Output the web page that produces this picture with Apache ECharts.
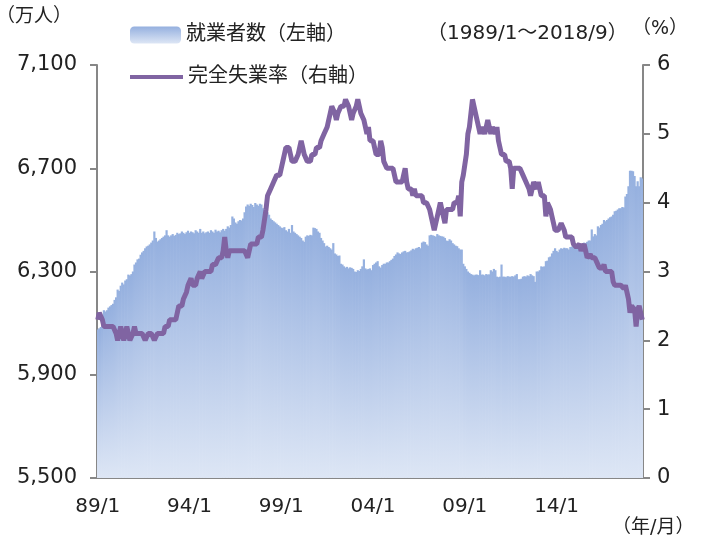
<!DOCTYPE html>
<html>
<head>
<meta charset="utf-8">
<script src="https://cdn.jsdelivr.net/npm/echarts/dist/echarts.min.js"></script>
<style>
  html, body { margin: 0; padding: 0; background: #fff; }
  #main { width: 703px; height: 542px; }
</style>
</head>
<body>
<div id="main"></div>
<script>
// 期間: 1989/1 〜 2018/9（月次）
const startYear = 1989;
const endYear = 2018;
const endMonth = 9;

const tickLabels = ["89/1", "94/1", "99/1", "04/1", "09/1", "14/1"];

// 就業者数（万人）
const employed = [
  6075, 6080, 6085, 6100, 6150, 6145, 6150, 6160, 6165, 6170, 6175, 6190, // 1989
  6200, 6230, 6225, 6245, 6257, 6250, 6265, 6270, 6288, 6285, 6290, 6300, // 1990
  6327, 6335, 6347, 6350, 6365, 6374, 6380, 6390, 6397, 6400, 6405, 6412, // 1991
  6420, 6455, 6430, 6416, 6420, 6425, 6430, 6435, 6440, 6460, 6440, 6435, // 1992
  6440, 6445, 6438, 6442, 6450, 6445, 6448, 6455, 6450, 6445, 6452, 6458, // 1993
  6450, 6455, 6452, 6448, 6460, 6455, 6450, 6465, 6450, 6455, 6448, 6452, // 1994
  6455, 6450, 6460, 6455, 6450, 6462, 6455, 6458, 6452, 6460, 6465, 6458, // 1995
  6465, 6475, 6470, 6480, 6513, 6505, 6490, 6485, 6495, 6500, 6498, 6505, // 1996
  6530, 6552, 6560, 6555, 6562, 6558, 6550, 6565, 6560, 6555, 6562, 6560, // 1997
  6545, 6540, 6535, 6530, 6520, 6505, 6500, 6495, 6490, 6485, 6480, 6475, // 1998
  6470, 6468, 6472, 6460, 6455, 6465, 6450, 6480, 6455, 6450, 6445, 6440, // 1999
  6435, 6430, 6420, 6415, 6435, 6440, 6438, 6442, 6440, 6470, 6468, 6465, // 2000
  6455, 6450, 6430, 6420, 6410, 6397, 6400, 6395, 6390, 6385, 6410, 6370, // 2001
  6366, 6360, 6362, 6330, 6327, 6320, 6315, 6318, 6312, 6316, 6314, 6310, // 2002
  6300, 6298, 6305, 6302, 6310, 6320, 6347, 6312, 6308, 6310, 6312, 6305, // 2003
  6325, 6330, 6335, 6340, 6320, 6315, 6325, 6330, 6330, 6335, 6335, 6340, // 2004
  6345, 6350, 6360, 6366, 6374, 6370, 6368, 6374, 6378, 6380, 6374, 6375, // 2005
  6378, 6382, 6388, 6385, 6390, 6392, 6395, 6390, 6412, 6416, 6414, 6405, // 2006
  6400, 6440, 6442, 6440, 6438, 6435, 6445, 6440, 6438, 6436, 6435, 6430, // 2007
  6420, 6418, 6425, 6420, 6410, 6405, 6400, 6398, 6390, 6385, 6385, 6330, // 2008
  6320, 6310, 6300, 6295, 6290, 6288, 6285, 6288, 6288, 6286, 6305, 6288, // 2009
  6288, 6285, 6290, 6288, 6289, 6305, 6300, 6310, 6305, 6280, 6278, 6280, // 2010
  6327, 6280, 6280, 6278, 6282, 6280, 6280, 6282, 6280, 6285, 6290, 6270, // 2011
  6270, 6272, 6280, 6282, 6280, 6285, 6282, 6290, 6285, 6282, 6260, 6300, // 2012
  6300, 6305, 6320, 6318, 6320, 6340, 6342, 6355, 6358, 6370, 6380, 6390, // 2013
  6380, 6375, 6385, 6390, 6388, 6392, 6390, 6390, 6385, 6395, 6397, 6395, // 2014
  6397, 6400, 6402, 6405, 6400, 6408, 6412, 6410, 6415, 6420, 6420, 6463, // 2015
  6436, 6445, 6440, 6475, 6470, 6480, 6485, 6500, 6495, 6500, 6505, 6510, // 2016
  6513, 6520, 6533, 6535, 6540, 6545, 6545, 6550, 6548, 6591, 6600, 6630, // 2017
  6690, 6690, 6688, 6670, 6630, 6650, 6630, 6665, 6660                    // 2018
];

// 完全失業率（%）
const unemploymentRate = [
  2.3, 2.4, 2.4, 2.3, 2.2, 2.2, 2.2, 2.2, 2.2, 2.2, 2.2, 2.2, // 1989
  2.1, 2.0, 2.1, 2.2, 2.1, 2.0, 2.1, 2.2, 2.1, 2.0, 2.0, 2.1, // 1990
  2.2, 2.1, 2.1, 2.1, 2.1, 2.1, 2.1, 2.0, 2.0, 2.1, 2.1, 2.1, // 1991
  2.1, 2.0, 2.0, 2.1, 2.1, 2.1, 2.1, 2.1, 2.2, 2.2, 2.2, 2.3, // 1992
  2.3, 2.3, 2.3, 2.3, 2.4, 2.5, 2.5, 2.5, 2.6, 2.6, 2.7, 2.8, // 1993
  2.8, 2.9, 2.8, 2.8, 2.8, 2.9, 2.9, 3.0, 2.9, 2.9, 3.0, 3.0, // 1994
  3.0, 3.0, 3.0, 3.1, 3.1, 3.1, 3.1, 3.2, 3.2, 3.2, 3.3, 3.5, // 1995
  3.3, 3.2, 3.3, 3.3, 3.3, 3.3, 3.3, 3.3, 3.3, 3.3, 3.3, 3.3, // 1996
  3.3, 3.3, 3.2, 3.3, 3.4, 3.4, 3.4, 3.4, 3.4, 3.5, 3.5, 3.5, // 1997
  3.6, 3.6, 3.9, 4.1, 4.1, 4.2, 4.2, 4.3, 4.3, 4.4, 4.4, 4.4, // 1998
  4.5, 4.6, 4.7, 4.8, 4.8, 4.8, 4.7, 4.6, 4.6, 4.6, 4.6, 4.7, // 1999
  4.7, 4.9, 4.8, 4.7, 4.7, 4.6, 4.6, 4.6, 4.7, 4.7, 4.7, 4.8, // 2000
  4.8, 4.8, 4.9, 4.9, 5.0, 5.0, 5.1, 5.2, 5.3, 5.4, 5.4, 5.3, // 2001
  5.2, 5.3, 5.3, 5.4, 5.4, 5.4, 5.5, 5.5, 5.4, 5.4, 5.2, 5.3, // 2002
  5.3, 5.4, 5.5, 5.4, 5.3, 5.3, 5.2, 5.1, 5.0, 5.1, 4.9, 4.9, // 2003
  4.9, 4.8, 4.7, 4.7, 4.7, 4.9, 4.8, 4.6, 4.6, 4.5, 4.5, 4.5, // 2004
  4.5, 4.5, 4.4, 4.3, 4.3, 4.3, 4.3, 4.3, 4.4, 4.5, 4.3, 4.2, // 2005
  4.2, 4.2, 4.1, 4.2, 4.1, 4.1, 4.1, 4.1, 4.1, 4.0, 4.0, 4.0, // 2006
  4.0, 3.9, 3.8, 3.8, 3.6, 3.7, 3.8, 3.9, 4.0, 3.9, 3.8, 3.7, // 2007
  3.9, 3.9, 3.9, 3.9, 3.9, 4.0, 4.0, 4.0, 4.1, 3.8, 4.3, 4.4, // 2008
  4.4, 4.7, 5.0, 5.1, 5.3, 5.5, 5.4, 5.3, 5.3, 5.1, 5.0, 5.1, // 2009
  5.1, 5.0, 5.1, 5.2, 5.1, 5.0, 5.1, 5.1, 5.0, 5.1, 4.9, 4.9, // 2010
  4.7, 4.7, 4.7, 4.6, 4.6, 4.6, 4.5, 4.2, 4.5, 4.5, 4.5, 4.5, // 2011
  4.5, 4.5, 4.4, 4.4, 4.3, 4.3, 4.2, 4.1, 4.2, 4.3, 4.3, 4.2, // 2012
  4.3, 4.2, 4.1, 4.1, 4.1, 3.8, 4.0, 3.95, 3.9, 3.8, 3.7, 3.6, // 2013
  3.6, 3.6, 3.6, 3.7, 3.7, 3.6, 3.5, 3.5, 3.5, 3.5, 3.5, 3.4, // 2014
  3.4, 3.35, 3.35, 3.4, 3.3, 3.35, 3.4, 3.3, 3.2, 3.2, 3.25, 3.2, // 2015
  3.2, 3.2, 3.2, 3.1, 3.05, 3.05, 3.05, 3.1, 3.0, 3.0, 3.0, 3.0, // 2016
  3.0, 2.85, 2.8, 2.8, 2.8, 2.8, 2.8, 2.8, 2.75, 2.8, 2.7, 2.6, // 2017
  2.4, 2.5, 2.5, 2.45, 2.2, 2.45, 2.5, 2.4, 2.3              // 2018
];

// カテゴリ "89/1" 形式
const months = [];
for (let y = startYear; y <= endYear; y++) {
  for (let m = 1; m <= 12; m++) {
    if (y === endYear && m > endMonth) break;
    months.push(String(y).slice(2) + "/" + m);
  }
}

const FONT = "'DejaVu Sans', 'Noto Sans CJK JP', sans-serif";
const AXIS_COLOR = "#878787";
const TEXT_COLOR = "#222";
const LINE_COLOR = "#8064A2";
const BAR_NAME = "就業者数（左軸）";
const LINE_NAME = "完全失業率（右軸）";

const chart = echarts.init(document.getElementById("main"));

const showTick = (index, value) => tickLabels.indexOf(value) >= 0;

chart.setOption({
  animation: false,
  textStyle: { fontFamily: FONT },
  grid: { left: 97, right: 60, top: 65, bottom: 64 },
  legend: [
    {
      data: [BAR_NAME],
      left: 125,
      top: 20,
      itemWidth: 51,
      itemHeight: 17,
      textStyle: { fontSize: 20, color: TEXT_COLOR, fontFamily: FONT }
    },
    {
      data: [{ name: LINE_NAME, icon: "rect" }],
      left: 125,
      top: 62,
      itemWidth: 53,
      itemHeight: 4,
      textStyle: { fontSize: 20, color: TEXT_COLOR, fontFamily: FONT }
    }
  ],
  xAxis: {
    type: "category",
    data: months,
    boundaryGap: true,
    axisLine: { lineStyle: { color: AXIS_COLOR, width: 2 } },
    axisTick: {
      interval: showTick,
      length: 7,
      lineStyle: { color: AXIS_COLOR, width: 2 }
    },
    axisLabel: {
      interval: showTick,
      margin: 19,
      fontSize: 20,
      color: TEXT_COLOR,
      fontFamily: FONT
    },
    splitLine: { show: false }
  },
  yAxis: [
    {
      type: "value",
      min: 5500,
      max: 7100,
      interval: 400,
      axisLine: { show: true, lineStyle: { color: AXIS_COLOR, width: 2 } },
      axisTick: { show: true, length: 7, lineStyle: { color: AXIS_COLOR, width: 2 } },
      axisLabel: {
        margin: 20,
        fontSize: 21,
        color: TEXT_COLOR,
        fontFamily: FONT,
        formatter: (v) => v.toLocaleString("en-US")
      },
      splitLine: { show: false }
    },
    {
      type: "value",
      position: "right",
      min: 0,
      max: 6,
      interval: 1,
      axisLine: { show: true, lineStyle: { color: AXIS_COLOR, width: 2 } },
      axisTick: { show: true, length: 7, lineStyle: { color: AXIS_COLOR, width: 2 } },
      axisLabel: {
        margin: 14,
        fontSize: 21,
        color: TEXT_COLOR,
        fontFamily: FONT
      },
      splitLine: { show: false }
    }
  ],
  graphic: [
    {
      type: "text",
      left: -4,
      top: 8,
      style: { text: "（万人）", fontSize: 19, fill: TEXT_COLOR, fontFamily: FONT }
    },
    {
      type: "text",
      left: 427,
      top: 24,
      style: { text: "（1989/1～2018/9）", fontSize: 20, fill: TEXT_COLOR, fontFamily: FONT }
    },
    {
      type: "text",
      left: 632,
      top: 20,
      style: { text: "（%）", fontSize: 19, fill: TEXT_COLOR, fontFamily: FONT }
    },
    {
      type: "text",
      left: 612,
      top: 519,
      style: { text: "（年/月）", fontSize: 19, fill: TEXT_COLOR, fontFamily: FONT }
    }
  ],
  series: [
    {
      name: BAR_NAME,
      type: "bar",
      yAxisIndex: 0,
      data: employed,
      barWidth: 2.2,
      itemStyle: {
        color: new echarts.graphic.LinearGradient(0, 0, 0, 1, [
          { offset: 0, color: "#95B0DF" },
          { offset: 1, color: "#DDE6F5" }
        ])
      },
      z: 1
    },
    {
      name: LINE_NAME,
      type: "line",
      yAxisIndex: 1,
      data: unemploymentRate,
      symbol: "none",
      lineStyle: { color: LINE_COLOR, width: 5 },
      itemStyle: { color: LINE_COLOR },
      z: 3
    }
  ]
});
</script>
</body>
</html>
